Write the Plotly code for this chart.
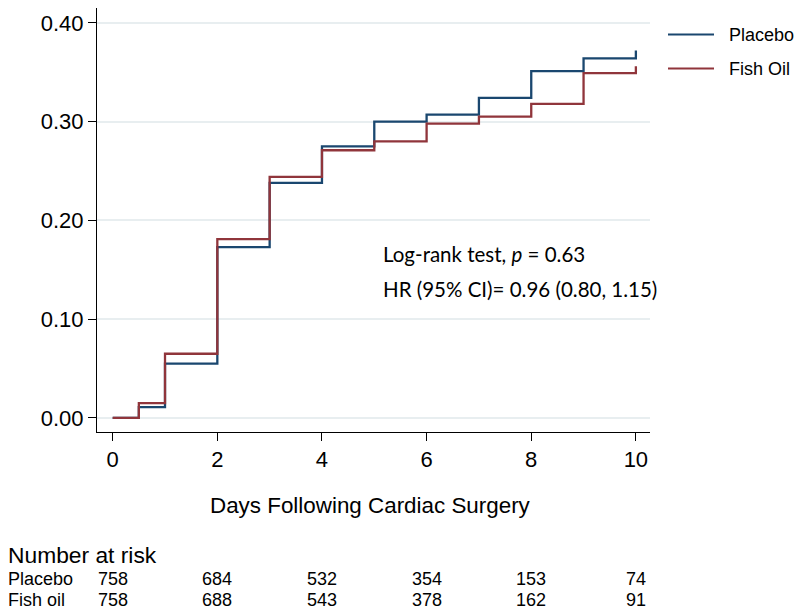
import plotly.graph_objects as go

# cumulative incidence
days = [0, 0.5, 1, 2, 3, 4, 5, 6, 7, 8, 9, 10]
placebo = [0, 0.011, 0.055, 0.173, 0.238, 0.275, 0.300, 0.307, 0.324, 0.351, 0.364, 0.372]
fish_oil = [0, 0.015, 0.065, 0.181, 0.244, 0.271, 0.280, 0.298, 0.305, 0.318, 0.349, 0.356]

risk_days = [0, 2, 4, 6, 8, 10]
risk_placebo = [758, 684, 532, 354, 153, 74]
risk_fish_oil = [758, 688, 543, 378, 162, 91]

y_ticks = [0.0, 0.1, 0.2, 0.3, 0.4]
x_ticks = [0, 2, 4, 6, 8, 10]

NAVY = "#1a476f"
MAROON = "#90353b"
ARIAL = "Liberation Sans, Arial, sans-serif"
CALIBRI = "Lato, Carlito, Calibri, sans-serif"

# plot box in pixels: x 97..650, y 8..432
L, R, T, B = 97, 150, 8, 184
W, H = 800, 616
PW, PH = W - L - R, H - T - B


def px_x(px):
    return (px - L) / PW


def px_y(py):
    return (H - B - py) / PH


fig = go.Figure()
fig.add_trace(go.Scatter(x=days, y=placebo, mode="lines", line=dict(color=NAVY, width=2.3, shape="hv"),
                         name="Placebo", showlegend=False))
fig.add_trace(go.Scatter(x=days, y=fish_oil, mode="lines", line=dict(color=MAROON, width=2.3, shape="hv"),
                         name="Fish Oil", showlegend=False))

annotations = []
shapes = []

# legend drawn by hand so the sample lines match the original length
for i, (name, color) in enumerate([("Placebo", NAVY), ("Fish Oil", MAROON)]):
    yy = px_y(34.5 + 34 * i)
    shapes.append(dict(type="line", xref="paper", yref="paper", x0=px_x(668), x1=px_x(714), y0=yy, y1=yy,
                       line=dict(color=color, width=2)))
    annotations.append(dict(xref="paper", yref="paper", x=px_x(727), y=yy, text=name, showarrow=False,
                            xanchor="left", yanchor="middle", font=dict(family=ARIAL, size=18, color="#000")))

annotations.append(dict(xref="paper", yref="paper", x=px_x(381), y=px_y(254), text="Log-rank test, <i>p</i> = 0.63",
                        showarrow=False, xanchor="left", yanchor="middle",
                        font=dict(family=CALIBRI, size=20.5, color="#000")))
annotations.append(dict(xref="paper", yref="paper", x=px_x(381), y=px_y(289), text="HR (95% CI)= 0.96 (0.80, 1.15)",
                        showarrow=False, xanchor="left", yanchor="middle",
                        font=dict(family=CALIBRI, size=20.5, color="#000")))

annotations.append(dict(xref="paper", yref="paper", x=px_x(370), y=px_y(505), text="Days Following Cardiac Surgery",
                        showarrow=False, xanchor="center", yanchor="middle",
                        font=dict(family=ARIAL, size=22.4, color="#000")))

# number at risk table
annotations.append(dict(xref="paper", yref="paper", x=px_x(6), y=px_y(555), text="Number at risk",
                        showarrow=False, xanchor="left", yanchor="middle",
                        font=dict(family=ARIAL, size=22.8, color="#000")))
for label, counts, row_y in [("Placebo", risk_placebo, 579), ("Fish oil", risk_fish_oil, 600)]:
    annotations.append(dict(xref="paper", yref="paper", x=px_x(6), y=px_y(row_y), text=label,
                            showarrow=False, xanchor="left", yanchor="middle",
                            font=dict(family=ARIAL, size=18, color="#000")))
    for d, n in zip(risk_days, counts):
        annotations.append(dict(xref="x", yref="paper", x=d, y=px_y(row_y), text=str(n),
                                showarrow=False, xanchor="center", yanchor="middle",
                                font=dict(family=ARIAL, size=18, color="#000")))

fig.update_layout(
    width=W,
    height=H,
    margin=dict(l=L, r=R, t=T, b=B),
    paper_bgcolor="white",
    plot_bgcolor="white",
    showlegend=False,
    annotations=annotations,
    shapes=shapes,
    font=dict(family=ARIAL, color="#000"),
)
fig.update_xaxes(
    range=[-0.3, 10.27],
    tickvals=x_ticks,
    ticks="outside",
    ticklen=8,
    tickcolor="#000",
    showline=True,
    linecolor="#000",
    linewidth=1,
    showgrid=False,
    zeroline=False,
    tickfont=dict(family=ARIAL, size=22, color="#000"),
)
fig.update_yaxes(
    range=[-0.0142, 0.415],
    tickvals=y_ticks,
    tickformat=".2f",
    ticks="outside",
    ticklen=8,
    tickcolor="#000",
    showline=True,
    linecolor="#000",
    linewidth=1,
    showgrid=True,
    gridcolor="#e8eef0",
    gridwidth=1.5,
    zeroline=False,
    tickfont=dict(family=ARIAL, size=22, color="#000"),
)

# drop the default page margin so the 800x616 figure fills the window exactly
fig.write_html("out.html", config={"displayModeBar": False},
               post_script="document.body.style.margin = '0';")
